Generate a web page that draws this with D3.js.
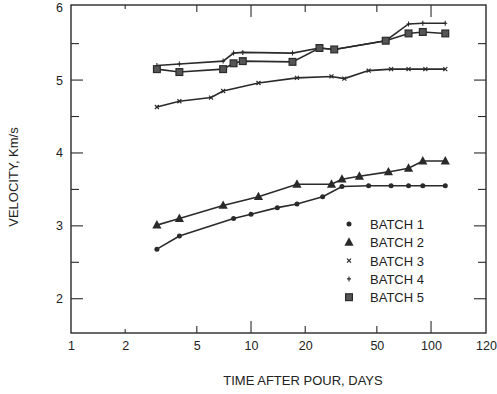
<!DOCTYPE html>
<html><head><meta charset="utf-8">
<script src="https://cdn.jsdelivr.net/npm/d3@7"></script>
<style>body{margin:0;background:#fff}svg{display:block}text{font-family:"Liberation Sans",Arial,sans-serif;fill:#222}</style>
</head><body><div id="c"></div>
<script>
const batchNames = ["BATCH 1","BATCH 2","BATCH 3","BATCH 4","BATCH 5"];
const batch1Days = [3,4,8,10,14,18,25,32,45,60,75,90,120];
const batch1Vel  = [2.68,2.86,3.10,3.16,3.25,3.30,3.40,3.54,3.55,3.55,3.55,3.55,3.55];
const batch2Days = [3,4,7,11,18,28,32,40,58,75,90,120];
const batch2Vel  = [3.01,3.10,3.28,3.40,3.57,3.57,3.64,3.68,3.74,3.79,3.89,3.89];
const batch3Days = [3,4,6,7,11,18,28,33,45,60,75,93,120];
const batch3Vel  = [4.63,4.71,4.76,4.85,4.96,5.03,5.05,5.02,5.13,5.15,5.15,5.15,5.15];
const batch4Days = [3,4,7,8,9,17,24,29,56,75,90,120];
const batch4Vel  = [5.20,5.22,5.26,5.37,5.38,5.37,5.44,5.42,5.54,5.77,5.78,5.78];
const batch5Days = [3,4,7,8,9,17,24,29,56,75,90,120];
const batch5Vel  = [5.15,5.11,5.15,5.23,5.26,5.25,5.44,5.42,5.54,5.64,5.66,5.64];
const xTickValues = [1,2,5,10,20,50,100];
const xMajorTicks = [10,100];
const xAxisEnd = 202;           // right edge of the printed axis
const xEndLabel = "120";
const yTickValues = [2,3,4,5,6];
const yMinorTicks = [2.5,3.5,4.5,5.5];
const yDomain = [1.53, 6.03];
const xTitle = "TIME AFTER POUR, DAYS";
const yTitle = "VELOCITY, Km/s";

const W=497,H=394, L=71,R=486,T=5,B=333;
const svg=d3.select("#c").append("svg").attr("width",W).attr("height",H);
const x=d3.scaleLog().domain([1,xAxisEnd]).range([L,R]);
const y=d3.scaleLinear().domain(yDomain).range([B,T]);
const ink="#2a2a2a";

svg.append("rect").attr("x",L).attr("y",T).attr("width",R-L).attr("height",B-T)
  .attr("fill","none").attr("stroke",ink).attr("stroke-width",1.4);

const fmt = d=>String(d);
const xb = svg.append("g").attr("transform",`translate(0,${B})`)
  .call(d3.axisBottom(x).tickValues(xTickValues.concat([xAxisEnd])).tickSize(0).tickPadding(8)
    .tickFormat(d=>d===xAxisEnd?xEndLabel:fmt(d)));
xb.select(".domain").remove();
xb.selectAll("text").style("font-size","12.5px").attr("fill","#333");
[[B,-1],[T,1]].forEach(([yy,dir])=>{
  svg.append("g").selectAll("line").data(xTickValues.slice(1)).join("line")
    .attr("x1",d=>x(d)).attr("x2",d=>x(d)).attr("y1",yy)
    .attr("y2",d=>yy+dir*(xMajorTicks.includes(d)?12:(d===2?4:7)))
    .attr("stroke",ink).attr("stroke-width",1.1);
});
const yl = svg.append("g").attr("transform",`translate(${L},0)`)
  .call(d3.axisLeft(y).tickValues(yTickValues).tickSize(0).tickPadding(8).tickFormat(fmt));
yl.select(".domain").remove();
yl.selectAll("text").style("font-size","12.5px").attr("fill","#333");
[[L,1],[R,-1]].forEach(([xx,dir])=>{
  svg.append("g").selectAll("line").data(yTickValues.filter(v=>v<6).concat(yMinorTicks)).join("line")
    .attr("y1",d=>y(d)).attr("y2",d=>y(d)).attr("x1",xx)
    .attr("x2",d=>xx+dir*(Number.isInteger(d)?12:8))
    .attr("stroke",ink).attr("stroke-width",1.1);
});

svg.append("text").attr("x",303).attr("y",385).attr("text-anchor","middle")
  .style("font-size","13px").text(xTitle);
svg.append("text").attr("transform","translate(18,177) rotate(-90)").attr("text-anchor","middle")
  .style("font-size","13px").text(yTitle);

const series=[
  {days:batch1Days,vel:batch1Vel,m:"circle"},
  {days:batch2Days,vel:batch2Vel,m:"tri"},
  {days:batch3Days,vel:batch3Vel,m:"x"},
  {days:batch4Days,vel:batch4Vel,m:"plus"},
  {days:batch5Days,vel:batch5Vel,m:"square"}];
const line=d3.line().x(d=>x(d[0])).y(d=>y(d[1]));
function marker(g,type,cx,cy){
  if(type==="circle") g.append("circle").attr("cx",cx).attr("cy",cy).attr("r",2.5).attr("fill",ink);
  else if(type==="tri") g.append("path").attr("d",`M${cx},${cy-5}L${cx+4.6},${cy+3.4}L${cx-4.6},${cy+3.4}Z`).attr("fill",ink);
  else if(type==="x") g.append("path").attr("d",`M${cx-2},${cy-2}L${cx+2},${cy+2}M${cx-2},${cy+2}L${cx+2},${cy-2}`).attr("stroke",ink).attr("stroke-width",1.2);
  else if(type==="plus") g.append("path").attr("d",`M${cx-2},${cy}L${cx+2},${cy}M${cx},${cy-2.5}L${cx},${cy+2.5}`).attr("stroke",ink).attr("stroke-width",1.1);
  else if(type==="square") g.append("rect").attr("x",cx-3.4).attr("y",cy-3.4).attr("width",6.8).attr("height",6.8).attr("fill","#555").attr("stroke",ink).attr("stroke-width",1.2);
}
series.forEach(s=>{
  const pts=s.days.map((d,i)=>[d,s.vel[i]]);
  svg.append("path").attr("d",line(pts)).attr("fill","none").attr("stroke",ink).attr("stroke-width",1.6);
  const g=svg.append("g");
  pts.forEach(p=>marker(g,s.m,x(p[0]),y(p[1])));
});

const lg=svg.append("g");
batchNames.forEach((n,i)=>{
  const yy=224+i*18.3;
  marker(lg,series[i].m,349,yy);
  lg.append("text").attr("x",370).attr("y",yy+5).style("font-size","13px").text(n);
});
</script></body></html>
